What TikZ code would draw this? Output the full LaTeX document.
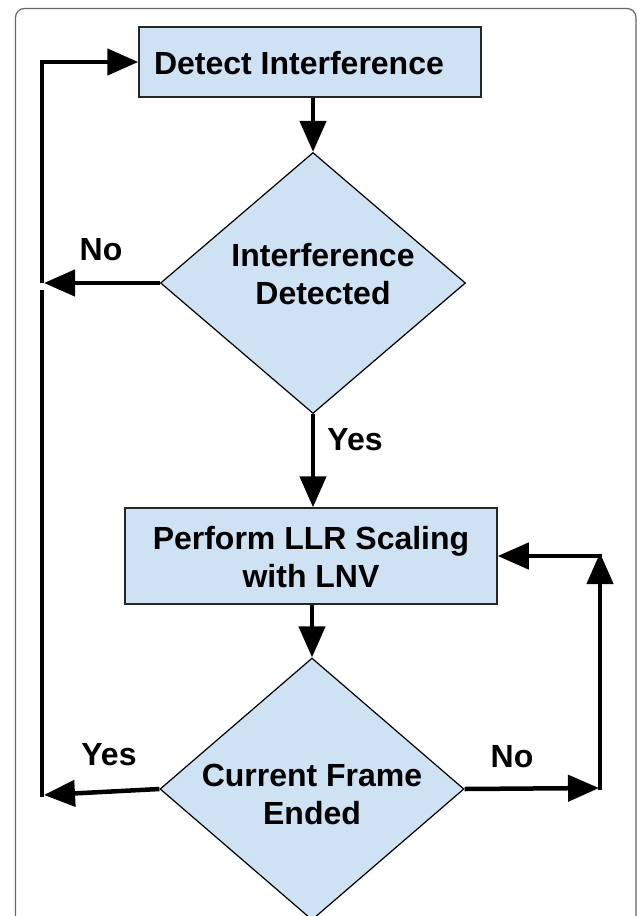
\documentclass[tikz,border=0pt]{standalone}
\usepackage{fontspec}
\setmainfont{Liberation Sans}
\usetikzlibrary{shapes.geometric,arrows.meta}
\definecolor{boxfill}{HTML}{CFE2F3}
\begin{document}
\begin{tikzpicture}[x=1pt,y=-1pt,
  txt/.style={font=\fontsize{32}{38}\selectfont\bfseries, align=center, inner sep=0pt},
  procbox/.style={rectangle, draw=black!85, line width=1.5pt, fill=boxfill, inner sep=0pt},
  decision/.style={diamond, draw=black, line width=1.2pt, fill=boxfill, inner sep=0pt, aspect=1.17},
  conn/.style={line width=4.5pt, -{Triangle[length=31pt,width=26pt]}},
  plainline/.style={line width=4.5pt}]
\useasboundingbox (0,0) rectangle (637,916);
\begin{scope}
\clip (0,0) rectangle (637,916);
\draw[black!60, line width=1.2pt, rounded corners=9pt] (15.5,8.5) rectangle (636,960);

\node[procbox, minimum width=342pt, minimum height=70pt] (b1) at (310,62) {};
\node[txt] (b1t) at (299,63) {Detect Interference};

\node[decision, minimum width=305pt, minimum height=261pt] (d1) at (313,283) {};
\node[txt] (d1t) at (323,274) {Interference\\Detected};

\node[procbox, minimum width=372pt, minimum height=96pt] (b2) at (311,556) {};
\node[txt] (b2t) at (311,557) {Perform LLR Scaling\\with LNV};

\node[decision, minimum width=304pt, minimum height=262pt] (d2) at (312,789) {};
\node[txt] (d2t) at (312,794) {Current Frame\\Ended};

\node[txt] (no1) at (101,250) {No};
\node[txt] (yes1) at (355,440) {Yes};
\node[txt] (yes2) at (109,755) {Yes};
\node[txt] (no2) at (512,757) {No};

\coordinate (c1) at (44,283);
\coordinate (c1a) at (42,283);
\coordinate (c2) at (44,795);
\coordinate (c2a) at (42,290);
\coordinate (c2b) at (42,797);
\coordinate (c3) at (599,788);
\coordinate (c3a) at (600,790);
\coordinate (c4) at (600,553);
\coordinate (c4a) at (602,556);

\draw[conn] (d1.north |- b1.south) -- (d1.north);
\draw[conn] (d1.west) -- (c1);
\draw[conn] (c1a) |- (b1.west);
\draw[conn] (d1.south) -- (d1.south |- b2.north);
\draw[conn] (d2.north |- b2.south) -- (d2.north);
\draw[conn] (d2.west) -- (c2);
\draw[plainline] (c2a) -- (c2b);
\draw[conn] (d2.east) -- (c3);
\draw[conn] (c3a) -- (c4);
\draw[conn] (c4a) -- (b2.east);
\end{scope}
\end{tikzpicture}
\end{document}
